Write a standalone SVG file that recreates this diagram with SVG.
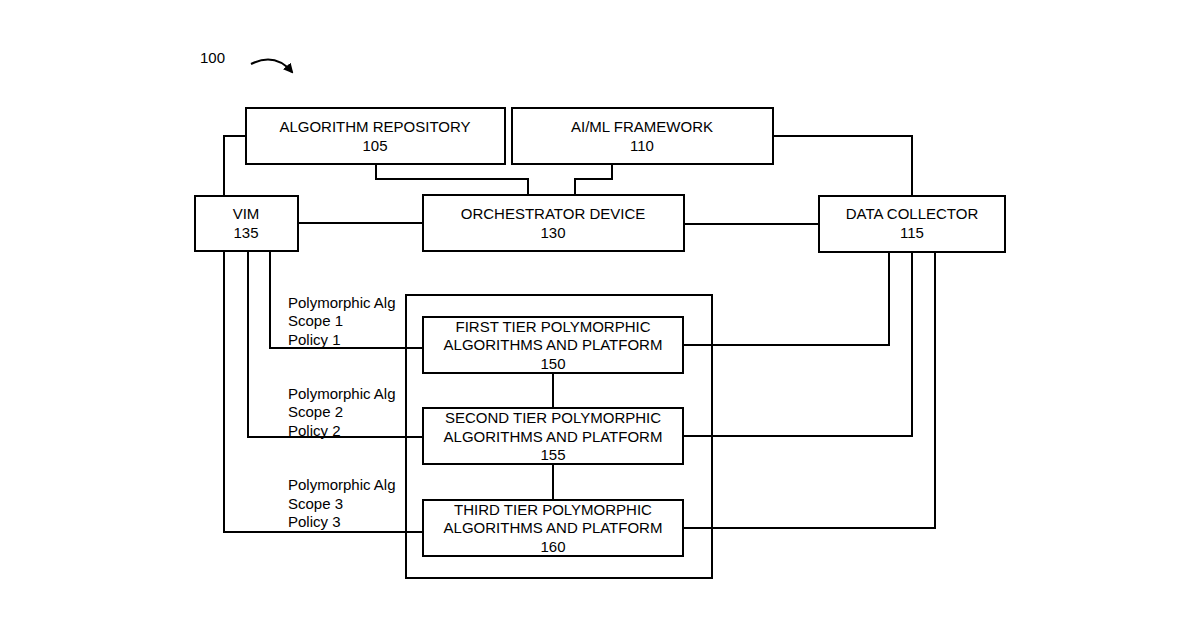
<svg xmlns="http://www.w3.org/2000/svg" width="1200" height="630" viewBox="0 0 1200 630">
<style>
.b{fill:none;stroke:#000;stroke-width:2}
.c{fill:none;stroke:#000;stroke-width:2}
text{font-family:"Liberation Sans",Arial,sans-serif;font-size:15px;fill:#000}
.m{text-anchor:middle}
</style>
<defs><marker id="ah" markerWidth="10" markerHeight="10" refX="8" refY="5" orient="auto" markerUnits="userSpaceOnUse"><path d="M0,0 L10,5 L0,10 Z" fill="#000"/></marker></defs>
<rect width="1200" height="630" fill="#fff"/>
<text x="200" y="63" font-size="16">100</text>
<path class="c" d="M251,64 Q275,52 292,72" marker-end="url(#ah)"/>
<g id="connectors">
<path class="c" d="M224,196 V136 H246"/>
<path class="c" d="M376,164 V179 H528 V195"/>
<path class="c" d="M612,164 V179 H575 V195"/>
<path class="c" d="M773,136 H912 V196"/>
<path class="c" d="M298,223 H423"/>
<path class="c" d="M684,224 H819"/>
<path class="c" d="M270,251 V348 H423"/>
<path class="c" d="M248,251 V437 H423"/>
<path class="c" d="M224,251 V532 H423"/>
<path class="c" d="M889,252 V345 H683"/>
<path class="c" d="M912,252 V436 H683"/>
<path class="c" d="M935,252 V528 H683"/>
<path class="c" d="M553,373 V408"/>
<path class="c" d="M553,464 V500"/>
</g>
<g id="n105"><rect class="b" x="246" y="108" width="259" height="56"/><text class="m" x="375" y="132">ALGORITHM REPOSITORY</text><text class="m" x="375" y="151">105</text></g>
<g id="n110"><rect class="b" x="512" y="108" width="261" height="56"/><text class="m" x="642" y="132">AI/ML FRAMEWORK</text><text class="m" x="642" y="151">110</text></g>
<g id="n135"><rect class="b" x="195" y="196" width="103" height="55"/><text class="m" x="246" y="219">VIM</text><text class="m" x="246" y="238">135</text></g>
<g id="n130"><rect class="b" x="423" y="195" width="261" height="56"/><text class="m" x="553" y="219">ORCHESTRATOR DEVICE</text><text class="m" x="553" y="238">130</text></g>
<g id="n115"><rect class="b" x="819" y="196" width="186" height="56"/><text class="m" x="912" y="219">DATA COLLECTOR</text><text class="m" x="912" y="238">115</text></g>
<g id="outer"><rect class="b" x="406" y="295" width="306" height="283"/></g>
<g id="n150"><rect class="b" x="423" y="317" width="260" height="56"/><text class="m" x="553" y="332">FIRST TIER POLYMORPHIC</text><text class="m" x="553" y="350">ALGORITHMS AND PLATFORM</text><text class="m" x="553" y="369">150</text></g>
<g id="n155"><rect class="b" x="423" y="408" width="260" height="56"/><text class="m" x="553" y="423">SECOND TIER POLYMORPHIC</text><text class="m" x="553" y="442">ALGORITHMS AND PLATFORM</text><text class="m" x="553" y="460">155</text></g>
<g id="n160"><rect class="b" x="423" y="500" width="260" height="56"/><text class="m" x="553" y="515">THIRD TIER POLYMORPHIC</text><text class="m" x="553" y="533">ALGORITHMS AND PLATFORM</text><text class="m" x="553" y="552">160</text></g>
<g id="labels">
<text x="288" y="308">Polymorphic Alg</text><text x="288" y="326">Scope 1</text><text x="288" y="345">Policy 1</text>
<text x="288" y="399">Polymorphic Alg</text><text x="288" y="417">Scope 2</text><text x="288" y="436">Policy 2</text>
<text x="288" y="490">Polymorphic Alg</text><text x="288" y="509">Scope 3</text><text x="288" y="527">Policy 3</text>
</g>
</svg>
